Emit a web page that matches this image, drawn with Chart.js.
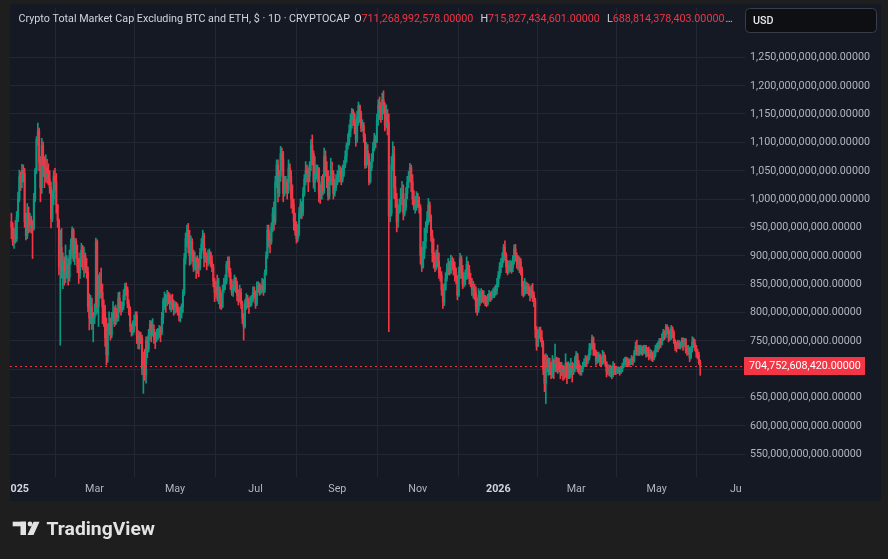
<!DOCTYPE html>
<html>
<head>
<meta charset="utf-8">
<script src="https://cdn.jsdelivr.net/npm/chart.js@4.4.1/dist/chart.umd.min.js"></script>
<style>
html, body { margin: 0; padding: 0; background: #1e1e1e; }
#wrap { position: relative; width: 888px; height: 559px; }
</style>
</head>
<body>
<div id="wrap"><canvas id="chart" width="888" height="559"></canvas></div>
<script>
// daily candles, values in billions of USD
// first candle is 28 Dec 2024 (day -4 counted from 1 Jan 2025)
var firstDay = -4;
var firstOpen = 960;
var closes = [
    950, 925, 935, 930,
    // 2025 jan
    968, 1000, 1040, 1030, 1050, 1045, 960, 935, 975, 950,
    965, 955, 948, 1000, 1050, 1105, 1120, 1065, 1020, 1095,
    1060, 1040, 1055, 1045, 1035, 1020, 965, 1000, 1040, 1030,
    990,
    // feb
    962, 880, 915, 875, 890, 860, 870, 885, 862, 900,
    920, 945, 910, 925, 905, 880, 870, 895, 910, 890,
    900, 880, 870, 810, 790, 810, 780, 790,
    // mar
    800, 925, 810, 830, 850, 835, 810, 800, 755, 725,
    770, 780, 760, 790, 800, 780, 800, 790, 825, 810,
    805, 812, 830, 845, 840, 815, 805, 775, 765, 770,
    785,
    // apr
    795, 760, 750, 760, 755, 700, 705, 690, 750, 735,
    760, 780, 765, 770, 755, 752, 760, 762, 770, 765,
    790, 820, 825, 820, 830, 828, 815, 820, 812, 808,
    // may
    815, 810, 800, 795, 800, 810, 835, 895, 930, 945,
    920, 900, 925, 905, 880, 895, 875, 890, 880, 905,
    920, 935, 895, 900, 890, 895, 905, 890, 880, 855,
    835,
    // jun
    845, 830, 840, 825, 810, 840, 850, 855, 885, 890,
    870, 850, 835, 845, 860, 850, 830, 825, 835, 815,
    790, 775, 815, 825, 818, 810, 820, 822, 835, 830,
    // jul
    815, 845, 850, 835, 840, 848, 840, 870, 900, 945,
    930, 925, 950, 975, 960, 1030, 1060, 1010, 1040, 1080,
    1070, 1010, 1025, 1030, 1015, 1055, 1040, 1000, 990, 960,
    945,
    // aug
    930, 940, 975, 990, 975, 1010, 1035, 1050, 1045, 1040,
    1060, 1095, 1080, 1030, 1045, 1050, 1055, 1010, 1000, 1030,
    1015, 1075, 1050, 1040, 1005, 1030, 1050, 1045, 1010, 1020,
    1030,
    // sep
    1040, 1050, 1045, 1035, 1045, 1060, 1075, 1095, 1100, 1120,
    1140, 1155, 1150, 1130, 1105, 1145, 1165, 1150, 1125, 1130,
    1110, 1060, 1085, 1075, 1030, 1055, 1070, 1090, 1105, 1100,
    // oct
    1140, 1165, 1160, 1150, 1175, 1165, 1130, 1150, 1135, 970,
    975, 1060, 1080, 1020, 1000, 960, 975, 990, 1000, 1010,
    975, 985, 1010, 1030, 1040, 1055, 1030, 1000, 985, 990,
    1000,
    // nov
    995, 985, 900, 880, 905, 925, 950, 965, 990, 970,
    935, 905, 890, 880, 900, 890, 870, 865, 840, 818,
    840, 860, 875, 880, 870, 890, 885, 880, 865, 860,
    // dec
    830, 870, 895, 870, 850, 860, 865, 885, 875, 860,
    850, 840, 845, 835, 810, 805, 830, 820, 835, 828,
    830, 820, 815, 825, 832, 825, 830, 835, 840, 838,
    850,
    // 2026 jan
    865, 880, 885, 895, 915, 900, 880, 875, 880, 885,
    878, 895, 912, 900, 890, 885, 890, 875, 845, 835,
    845, 840, 845, 840, 830, 838, 830, 820, 770, 740,
    760,
    // feb
    765, 755, 745, 700, 675, 715, 705, 710, 700, 690,
    715, 700, 710, 705, 712, 700, 695, 705, 700, 690,
    710, 685, 700, 690, 705, 695, 700, 715,
    // mar
    725, 710, 700, 695, 700, 705, 712, 718, 715, 720,
    735, 740, 755, 735, 730, 715, 720, 725, 715, 710,
    725, 720, 712, 695, 700, 698, 702, 690, 705, 700,
    695,
    // apr
    698, 700, 695, 700, 705, 712, 718, 712, 715, 708,
    712, 718, 715, 728, 740, 730, 735, 730, 736, 728,
    735, 738, 725, 730, 722, 728, 720, 718, 725, 735,
    // may
    742, 738, 750, 745, 755, 765, 760, 775, 770, 755,
    760, 772, 765, 750, 740, 738, 745, 740, 742, 750,
    748, 752, 735, 730, 735, 720, 735, 748, 745, 740,
    730,
    // jun
    725, 711.27, 704.75
];
var highs = [
    975, 958, 948, 962,
    978, 1012, 1051, 1048, 1061, 1060, 1054, 975, 992, 986,
    975, 970, 962, 1010, 1054, 1110, 1134, 1125, 1075, 1107,
    1101, 1075, 1078, 1070, 1062, 1050, 1030, 1015, 1050, 1054,
    1045,
    990, 965, 945, 948, 905, 898, 919, 900, 895, 910,
    930, 951, 948, 931, 930, 919, 895, 905, 922, 918,
    915, 905, 895, 880, 833, 830, 825, 800,
    815, 931, 928, 866, 870, 878, 850, 822, 813, 790,
    780, 801, 790, 800, 819, 810, 813, 808, 835, 836,
    819, 818, 840, 851, 852, 845, 822, 810, 780, 785,
    795,
    801, 801, 768, 766, 765, 760, 730, 735, 757, 757,
    770, 786, 785, 789, 778, 765, 770, 772, 777, 775,
    800, 825, 836, 832, 839, 836, 833, 830, 832, 822,
    819, 818, 815, 808, 810, 815, 840, 904, 940, 954,
    957, 945, 935, 930, 910, 907, 898, 900, 895, 913,
    930, 945, 940, 913, 905, 910, 912, 907, 900, 885,
    860,
    855, 866, 860, 845, 835, 848, 860, 866, 890, 898,
    898, 878, 858, 855, 866, 862, 855, 840, 848, 842,
    820, 798, 822, 833, 830, 825, 828, 830, 845, 845,
    838, 854, 854, 852, 848, 860, 858, 875, 907, 954,
    954, 940, 958, 985, 995, 1040, 1069, 1069, 1050, 1093,
    1090, 1084, 1040, 1040, 1035, 1069, 1062, 1050, 1025, 1000,
    975,
    960, 955, 985, 1000, 995, 1020, 1043, 1066, 1060, 1055,
    1066, 1105, 1113, 1085, 1075, 1060, 1060, 1055, 1025, 1040,
    1043, 1090, 1085, 1066, 1050, 1040, 1072, 1065, 1050, 1035,
    1043,
    1050, 1060, 1058, 1055, 1060, 1068, 1085, 1099, 1115, 1131,
    1150, 1160, 1158, 1152, 1140, 1155, 1171, 1166, 1155, 1140,
    1135, 1115, 1100, 1096, 1080, 1065, 1080, 1100, 1116, 1112,
    1150, 1175, 1180, 1170, 1187, 1191, 1170, 1166, 1158, 1150,
    1000, 1075, 1101, 1093, 1040, 1010, 990, 1000, 1019, 1031,
    1025, 1000, 1020, 1040, 1049, 1063, 1060, 1043, 1015, 1005,
    1013,
    1010, 1004, 990, 915, 925, 948, 960, 978, 1001, 995,
    972, 945, 930, 905, 910, 919, 905, 880, 872, 850,
    850, 870, 886, 895, 890, 901, 898, 895, 889, 878,
    865, 880, 904, 900, 883, 870, 875, 898, 890, 883,
    869, 860, 855, 850, 845, 825, 842, 838, 842, 839,
    838, 830, 828, 832, 839, 836, 838, 842, 845, 848,
    860,
    872, 888, 895, 905, 920, 926, 905, 892, 890, 892,
    890, 900, 919, 920, 905, 900, 898, 895, 880, 855,
    860, 854, 852, 850, 845, 848, 851, 836, 825, 775,
    770,
    774, 774, 768, 750, 725, 727, 724, 720, 719, 712,
    724, 718, 744, 721, 720, 719, 712, 712, 707, 705,
    727, 712, 713, 710, 719, 712, 710, 722,
    731, 728, 715, 707, 705, 712, 718, 724, 722, 725,
    745, 745, 760, 757, 745, 733, 730, 730, 727, 722,
    733, 730, 725, 713, 708, 707, 707, 705, 713, 710,
    704,
    704, 704, 703, 704, 710, 718, 721, 721, 720, 718,
    718, 724, 722, 733, 748, 751, 742, 742, 742, 740,
    742, 742, 742, 738, 739, 735, 733, 730, 732, 742,
    745, 748, 754, 754, 762, 770, 768, 779, 778, 774,
    768, 777, 775, 768, 752, 748, 751, 750, 748, 755,
    755, 754, 754, 742, 742, 738, 740, 757, 755, 752,
    742,
    735, 730, 715.83
];
var lows = [
    930, 918, 913, 922,
    925, 960, 995, 1015, 1020, 1030, 950, 928, 930, 940,
    942, 940, 895, 945, 995, 1045, 1095, 1050, 995, 1010,
    1040, 1020, 1030, 1028, 1025, 1010, 949, 960, 990, 1015,
    975,
    950, 866, 742, 860, 842, 848, 852, 860, 848, 855,
    885, 895, 890, 884, 895, 870, 851, 860, 880, 875,
    862, 870, 860, 801, 769, 780, 770, 748,
    780, 795, 798, 775, 825, 825, 780, 775, 740, 707,
    712, 760, 751, 755, 785, 775, 778, 783, 785, 800,
    795, 801, 805, 822, 830, 808, 795, 766, 758, 760,
    765,
    776, 745, 736, 735, 745, 690, 657, 680, 675, 720,
    730, 752, 748, 758, 745, 736, 748, 752, 755, 748,
    760, 780, 805, 800, 812, 815, 805, 801, 805, 795,
    798, 800, 795, 785, 783, 790, 800, 830, 885, 915,
    905, 883, 885, 890, 872, 875, 860, 868, 863, 875,
    895, 910, 880, 888, 875, 882, 885, 880, 872, 845,
    819,
    825, 820, 815, 807, 805, 808, 835, 840, 850, 875,
    862, 840, 830, 828, 838, 835, 820, 813, 818, 807,
    780, 751, 772, 805, 808, 798, 810, 812, 818, 825,
    807, 812, 835, 830, 832, 835, 830, 835, 866, 895,
    915, 905, 920, 942, 945, 955, 1020, 995, 1004, 1031,
    1050, 995, 1005, 1010, 1000, 1010, 1030, 984, 975, 945,
    936,
    922, 925, 935, 966, 965, 970, 1005, 1025, 1030, 1013,
    1030, 1050, 1060, 1019, 1013, 1035, 1030, 995, 992, 1000,
    1007, 1010, 1040, 1020, 998, 1000, 1025, 1025, 1000, 1005,
    1015,
    1025, 1030, 1030, 1025, 1030, 1040, 1055, 1065, 1088, 1095,
    1110, 1125, 1130, 1115, 1093, 1100, 1130, 1135, 1119, 1120,
    1100, 1054, 1055, 1060, 1025, 1028, 1050, 1066, 1085, 1090,
    1100, 1130, 1140, 1135, 1140, 1150, 1120, 1125, 1113, 766,
    960, 970, 1050, 1001, 985, 942, 950, 975, 978, 990,
    963, 970, 980, 1000, 1020, 1030, 1013, 990, 981, 975,
    980,
    985, 975, 885, 872, 878, 895, 913, 940, 955, 960,
    925, 889, 878, 872, 875, 880, 860, 855, 830, 807,
    812, 839, 855, 866, 866, 868, 875, 866, 855, 850,
    822, 828, 860, 860, 842, 845, 848, 858, 860, 850,
    845, 830, 825, 822, 800, 795, 800, 812, 816, 818,
    816, 812, 810, 812, 820, 819, 822, 826, 826, 830,
    832,
    845, 860, 870, 880, 888, 892, 870, 866, 869, 872,
    869, 872, 885, 890, 878, 875, 870, 866, 830, 827,
    830, 833, 833, 830, 820, 825, 819, 810, 755, 733,
    740,
    754, 748, 739, 690, 660, 639, 695, 689, 690, 683,
    685, 683, 695, 695, 692, 695, 683, 688, 680, 682,
    685, 674, 683, 683, 685, 677, 690, 695,
    700, 695, 692, 689, 689, 695, 704, 706, 705, 710,
    716, 725, 735, 724, 724, 707, 710, 712, 706, 704,
    708, 710, 705, 686, 690, 688, 686, 683, 686, 690,
    690,
    692, 692, 689, 692, 695, 702, 707, 706, 704, 704,
    707, 708, 707, 712, 725, 724, 724, 724, 726, 724,
    726, 728, 721, 722, 716, 718, 715, 713, 716, 721,
    730, 730, 735, 738, 742, 750, 752, 755, 762, 748,
    750, 752, 755, 745, 733, 730, 736, 736, 735, 738,
    733, 740, 728, 724, 725, 713, 718, 730, 738, 732,
    721,
    718, 708, 688.81
];
// axis ticks
var priceTicks = [550, 600, 650, 700, 750, 800, 850, 900, 950, 1000, 1050, 1100, 1150, 1200, 1250];
var monthTicks = [0, 59, 120, 181, 243, 304, 365, 424, 485, 546];
var monthLabels = ["2025", "Mar", "May", "Jul", "Sep", "Nov", "2026", "Mar", "May", "Jul"];
var yearLabels = ["2025", "2026"];
// legend texts
var titleText = "Crypto Total Market Cap Excluding BTC and ETH, $ \u00b7 1D \u00b7 CRYPTOCAP";
var ohlcKeys = ["O", "H", "L"];
var ohlcValues = ["711,268,992,578.00000", "715,827,434,601.00000", "688,814,378,403.00000"];
var lastPriceLabel = "704,752,608,420.00000";
var currency = "USD";

var UP = "#089981";
var DOWN = "#f23645";
var GRID = "#232734";
var AXIS_TEXT = "#b2b5be";
var FONT = "11.5px Roboto";

var opens = closes.map(function (c, i) { return i === 0 ? firstOpen : closes[i - 1]; });
var wicks = [], bodies = [], colors = [];
for (var i = 0; i < closes.length; i++) {
    var day = firstDay + i;
    wicks.push({ x: day, y: [lows[i], highs[i]] });
    bodies.push({ x: day, y: [opens[i], closes[i]] });
    colors.push(closes[i] >= opens[i] ? UP : DOWN);
}
var lastClose = closes[closes.length - 1];

function fmtPrice(v) {
    return (v * 1e9).toLocaleString("en-US") + ".00000";
}
// text squeezed horizontally by sx
function drawText(ctx, s, x, y, sx, align) {
    ctx.save();
    ctx.translate(x, y);
    ctx.scale(sx, 1);
    ctx.textAlign = align || "left";
    ctx.fillText(s, 0, 0);
    ctx.restore();
}

var decor = {
    id: "decor",
    beforeDraw: function (chart) {
        var c = chart.ctx;
        c.save();
        c.fillStyle = "#1e1e1e";
        c.fillRect(0, 0, 888, 559);
        c.fillStyle = "#151924";
        c.fillRect(10, 4, 871, 497);
        c.restore();
    },
    afterDatasetsDraw: function (chart) {
        var c = chart.ctx, a = chart.chartArea;
        var y = Math.round(chart.scales.y.getPixelForValue(lastClose)) + 0.5;
        c.save();
        c.strokeStyle = DOWN;
        c.lineWidth = 1;
        c.setLineDash([2, 3]);
        c.beginPath();
        c.moveTo(a.left, y);
        c.lineTo(a.right, y);
        c.stroke();
        c.restore();
    },
    afterDraw: function (chart) {
        var c = chart.ctx, a = chart.chartArea;
        var ys = chart.scales.y, xs = chart.scales.x;
        c.save();
        c.font = FONT;
        var sx = 120 / c.measureText("1,250,000,000,000.00000").width;
        c.textBaseline = "middle";

        // price axis labels
        c.fillStyle = AXIS_TEXT;
        priceTicks.forEach(function (v) {
            drawText(c, fmtPrice(v), 750, ys.getPixelForValue(v), sx);
        });

        // time axis labels, clipped to the pane
        c.save();
        c.beginPath();
        c.rect(a.left, a.bottom, a.right - a.left - 4, 30);
        c.clip();
        monthTicks.forEach(function (d, k) {
            var lbl = monthLabels[k];
            c.font = (yearLabels.indexOf(lbl) >= 0 ? "bold " : "") + FONT;
            c.fillStyle = yearLabels.indexOf(lbl) >= 0 ? "#d1d4dc" : AXIS_TEXT;
            drawText(c, lbl, xs.getPixelForValue(d), 489, sx, "center");
        });
        c.restore();

        // last price label
        var py = Math.round(ys.getPixelForValue(lastClose));
        c.fillStyle = DOWN;
        c.fillRect(744, py - 9, 121, 18);
        c.fillStyle = "#ffffff";
        c.font = FONT;
        drawText(c, lastPriceLabel, 749, py + 0.5, sx);

        // currency box
        c.fillStyle = "#0e0f12";
        c.strokeStyle = "#3a3d45";
        c.lineWidth = 1;
        c.beginPath();
        c.roundRect(745.5, 8.5, 131, 24, 4);
        c.fill();
        c.stroke();
        c.fillStyle = "#e6e7ea";
        c.font = "500 " + FONT;
        drawText(c, currency, 753, 21, sx);

        // legend line
        c.font = FONT;
        var x = 18.5, ly = 19;
        c.fillStyle = "#d1d4dc";
        drawText(c, titleText, x, ly, sx);
        x += c.measureText(titleText).width * sx + 4;
        ohlcKeys.forEach(function (k, n) {
            c.fillStyle = "#d1d4dc";
            drawText(c, k, x, ly, sx);
            x += c.measureText(k).width * sx;
            c.fillStyle = DOWN;
            drawText(c, ohlcValues[n], x, ly, sx);
            x += c.measureText(ohlcValues[n]).width * sx + 7;
        });
        c.fillStyle = "#d1d4dc";
        drawText(c, "\u2026", x - 6, ly, sx);

        // TradingView logo
        c.fillStyle = "#e3e3e3";
        c.fillRect(12.7, 521.7, 13.3, 4.6);
        c.fillRect(20.5, 521.7, 5.5, 13.3);
        c.beginPath();
        c.arc(30, 524, 2.4, 0, Math.PI * 2);
        c.fill();
        c.beginPath();
        c.moveTo(33.5, 521.7);
        c.lineTo(39.5, 521.7);
        c.lineTo(33.5, 535);
        c.lineTo(27.5, 535);
        c.closePath();
        c.fill();
        c.font = "bold 19px Roboto";
        c.textBaseline = "alphabetic";
        var lw = c.measureText("TradingView").width;
        drawText(c, "TradingView", 46.5, 535, 108.5 / lw);
        c.restore();
    }
};

new Chart(document.getElementById("chart").getContext("2d"), {
    type: "bar",
    data: {
        datasets: [
            { data: wicks, backgroundColor: colors, barThickness: 1, grouped: false, order: 2 },
            { data: bodies, backgroundColor: colors, barThickness: 1.4, minBarLength: 1, grouped: false, order: 1 }
        ]
    },
    options: {
        responsive: false,
        animation: false,
        events: [],
        layout: { padding: { left: 10, top: 8, right: 8, bottom: 59 } },
        plugins: { legend: { display: false }, tooltip: { enabled: false } },
        scales: {
            x: {
                type: "linear",
                offset: false,
                min: -5.08,
                max: 551.95,
                afterBuildTicks: function (s) { s.ticks = monthTicks.map(function (v) { return { value: v }; }); },
                afterFit: function (s) { s.height = 23; },
                ticks: { display: false },
                grid: { color: GRID, drawTicks: false },
                border: { display: false }
            },
            y: {
                type: "linear",
                position: "right",
                min: 509.5,
                max: 1337,
                afterBuildTicks: function (s) { s.ticks = priceTicks.map(function (v) { return { value: v }; }); },
                afterFit: function (s) { s.width = 135; },
                ticks: { display: false },
                grid: { color: GRID, drawTicks: false },
                border: { display: false }
            }
        }
    },
    plugins: [decor]
});
</script>
</body>
</html>
